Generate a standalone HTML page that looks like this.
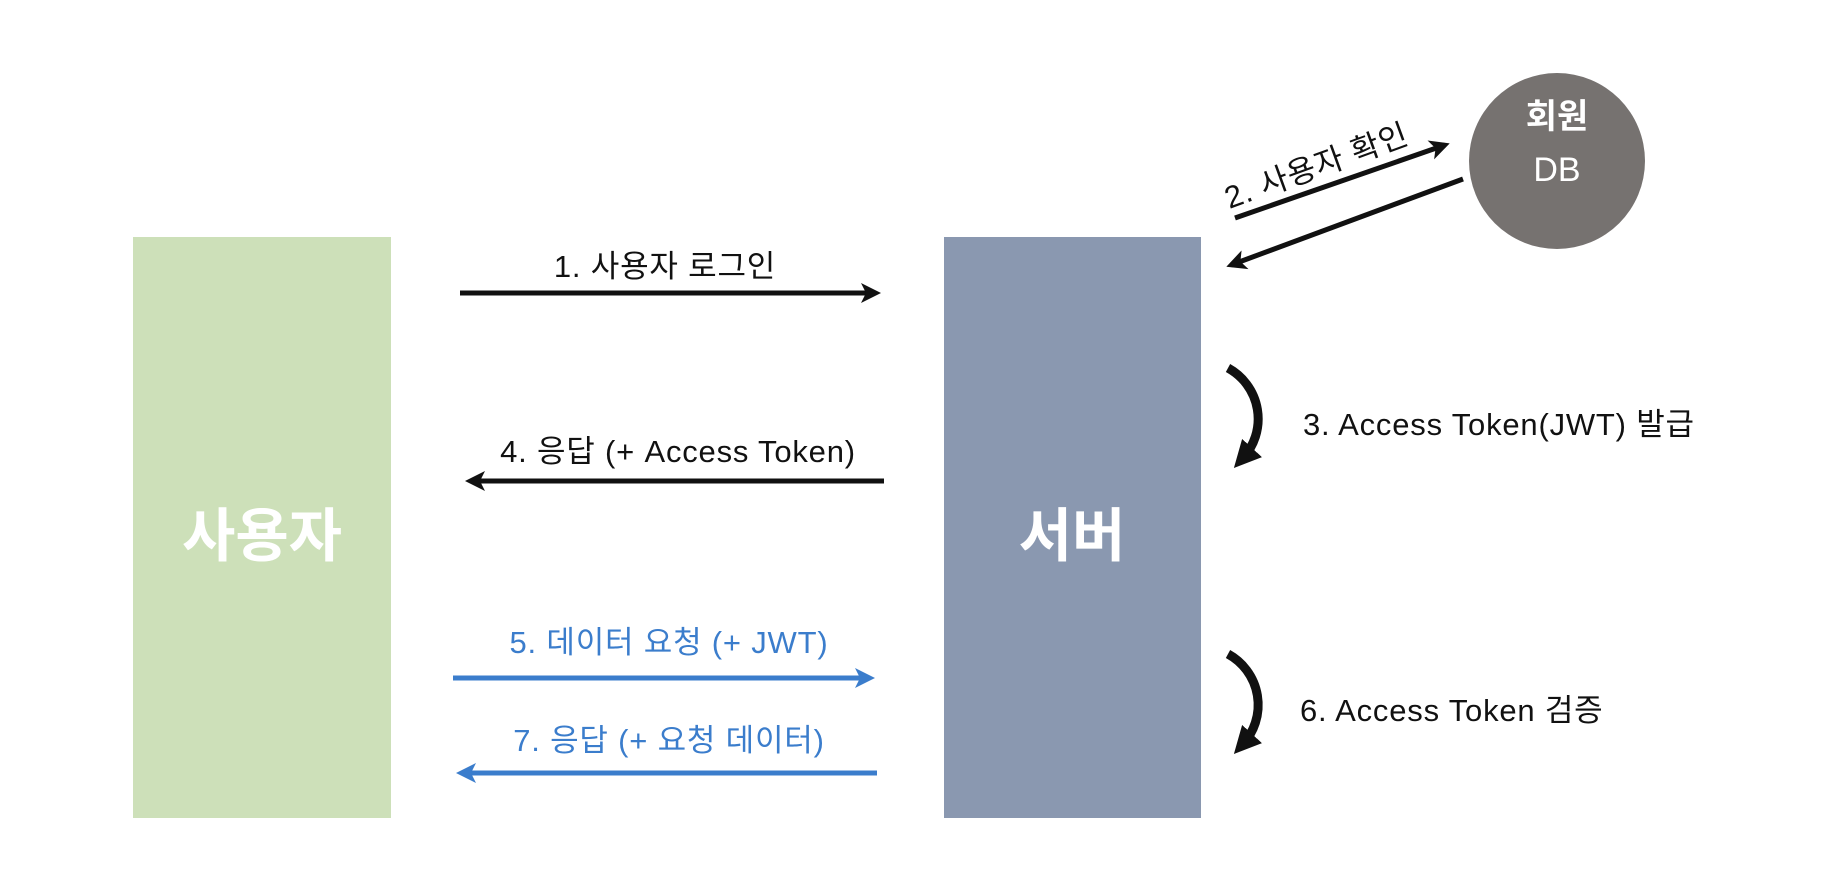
<!DOCTYPE html>
<html><head><meta charset="utf-8"><style>
html,body{margin:0;padding:0;background:#fff;}
svg text{font-family:"Liberation Sans","Noto Sans CJK KR",sans-serif;}
</style></head><body>
<svg width="1830" height="886" viewBox="0 0 1830 886" xmlns="http://www.w3.org/2000/svg">
<defs>
<marker id="ab" markerWidth="4" markerHeight="4" refX="3" refY="2" orient="auto" markerUnits="strokeWidth"><path d="M0,0 L4,2 L0,4 L1,2 z" fill="#111"/></marker>
<marker id="ablue" markerWidth="4" markerHeight="4" refX="3" refY="2" orient="auto" markerUnits="strokeWidth"><path d="M0,0 L4,2 L0,4 L1,2 z" fill="#3b7dcc"/></marker>
<marker id="ac" markerWidth="3" markerHeight="3" refX="1.5" refY="1.5" orient="auto" markerUnits="strokeWidth"><path d="M0,0 L3,1.5 L0,3 z" fill="#111"/></marker>
</defs>
<rect x="133" y="237" width="258" height="581" fill="#cde0b9"/>
<text x="262" y="556" font-size="58" font-weight="bold" fill="#fff" text-anchor="middle">사용자</text>
<rect x="944" y="237" width="257" height="581" fill="#8a98b0"/>
<text x="1072" y="556" font-size="58" font-weight="bold" fill="#fff" text-anchor="middle">서버</text>
<circle cx="1557" cy="161" r="88" fill="#767270"/>
<text x="1557" y="128" font-size="34" font-weight="bold" fill="#fff" text-anchor="middle">회원</text>
<text x="1557" y="181" font-size="34" fill="#fff" text-anchor="middle">DB</text>

<g font-size="31" letter-spacing="0.8" fill="#111">
<line x1="460" y1="293" x2="876" y2="293" stroke="#111" stroke-width="5" marker-end="url(#ab)"/>
<text x="665" y="277" text-anchor="middle">1. 사용자 로그인</text>

<line x1="884" y1="481" x2="470" y2="481" stroke="#111" stroke-width="5" marker-end="url(#ab)"/>
<text x="678" y="462" text-anchor="middle">4. 응답 (+ Access Token)</text>

<line x1="453" y1="678" x2="870" y2="678" stroke="#3b7dcc" stroke-width="5" marker-end="url(#ablue)"/>
<text x="669" y="653" fill="#3b7dcc" text-anchor="middle">5. 데이터 요청 (+ JWT)</text>

<line x1="877" y1="773" x2="461" y2="773" stroke="#3b7dcc" stroke-width="5" marker-end="url(#ablue)"/>
<text x="669" y="751" fill="#3b7dcc" text-anchor="middle">7. 응답 (+ 요청 데이터)</text>

<line x1="1235" y1="218" x2="1445" y2="145" stroke="#111" stroke-width="5" marker-end="url(#ab)"/>
<line x1="1463" y1="179" x2="1231" y2="265" stroke="#111" stroke-width="5" marker-end="url(#ab)"/>
<text transform="translate(1320,176) rotate(-20)" text-anchor="middle">2. 사용자 확인</text>

<path d="M1228,368 A58,58 0 0 1 1243,458" fill="none" stroke="#111" stroke-width="9" marker-end="url(#ac)"/>
<text x="1303" y="435">3. Access Token(JWT) 발급</text>

<path d="M1228,654 A58,58 0 0 1 1243,744" fill="none" stroke="#111" stroke-width="9" marker-end="url(#ac)"/>
<text x="1300" y="721">6. Access Token 검증</text>
</g>
</svg>
</body></html>
